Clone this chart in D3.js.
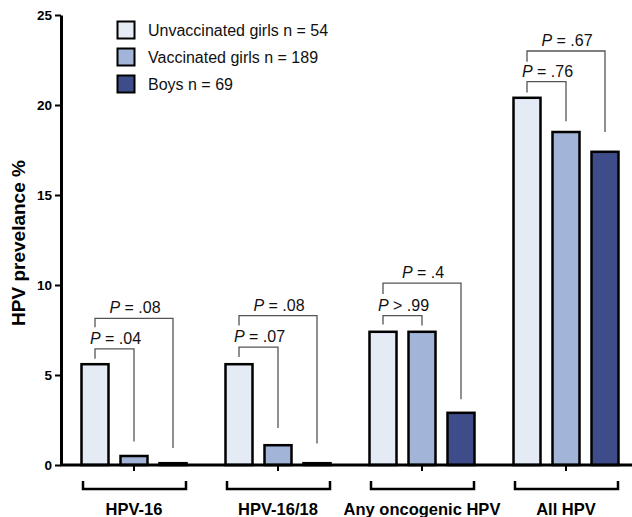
<!DOCTYPE html>
<html>
<head>
<meta charset="utf-8">
<script src="https://cdn.jsdelivr.net/npm/d3@7"></script>
<style>
  body { margin: 0; background: #fff; }
  svg { display: block; font-family: Arial, "Liberation Sans", Helvetica, sans-serif; }
</style>
</head>
<body>
<div id="chart"></div>
<script>
// data
var categories = ["HPV-16", "HPV-16/18", "Any oncogenic HPV", "All HPV"];
var seriesNames = ["Unvaccinated girls n = 54", "Vaccinated girls n = 189", "Boys n = 69"];
var unvaccinated = [5.6, 5.6, 7.4, 20.4];
var vaccinated = [0.5, 1.1, 7.4, 18.5];
var boys = [0.1, 0.1, 2.9, 17.4];
var yTicks = [0, 5, 10, 15, 20, 25];
var seriesColors = ["#e5ebf5", "#a2b4d8", "#3e4d8a"];

// p-value comparisons: group, bars compared, bracket level, leg ends (all in % units)
var comparisons = [
	{ group: 0, a: 0, b: 1, level: 6.45, endA: 5.9, endB: 1.3, op: "=", p: ".04" },
	{ group: 0, a: 0, b: 2, level: 8.15, endA: 7.65, endB: 0.95, op: "=", p: ".08" },
	{ group: 1, a: 0, b: 1, level: 6.55, endA: 6.0, endB: 2.05, op: "=", p: ".07" },
	{ group: 1, a: 0, b: 2, level: 8.3, endA: 7.75, endB: 1.2, op: "=", p: ".08" },
	{ group: 2, a: 0, b: 1, level: 8.3, endA: 7.8, endB: 7.75, op: ">", p: ".99" },
	{ group: 2, a: 0, b: 2, level: 10.1, endA: 9.5, endB: 3.65, op: "=", p: ".4" },
	{ group: 3, a: 0, b: 1, level: 21.3, endA: 20.7, endB: 19.1, op: "=", p: ".76" },
	{ group: 3, a: 0, b: 2, level: 23.0, endA: 22.4, endB: 18.5, op: "=", p: ".67" }
];

var seriesValues = [unvaccinated, vaccinated, boys];
var width = 632, height = 517;

var svg = d3.select("#chart").append("svg")
	.attr("width", width)
	.attr("height", height);

var y = d3.scaleLinear().domain([0, 25]).range([465, 15]);
var x0 = d3.scaleBand().domain(categories).range([62, 638]);
var x1 = d3.scaleBand().domain([0, 1, 2]).range([19.5, 124.5]).paddingInner(12 / 39);

function barCenter(g, s) {
	return x0(categories[g]) + x1(s) + x1.bandwidth() / 2;
}

// bars
categories.forEach(function(cat, ci) {
	var g = svg.append("g").attr("class", "group");
	seriesValues.forEach(function(vals, si) {
		g.append("rect")
			.attr("x", x0(cat) + x1(si))
			.attr("y", y(vals[ci]))
			.attr("width", x1.bandwidth())
			.attr("height", y(0) - y(vals[ci]))
			.attr("fill", seriesColors[si])
			.attr("stroke", "#000")
			.attr("stroke-width", 2.5);
	});
});

// y axis
var yAxis = svg.append("g")
	.attr("transform", "translate(61,0)")
	.call(d3.axisLeft(y).tickValues(yTicks).tickSize(6).tickSizeOuter(0).tickPadding(3));
yAxis.select(".domain").attr("stroke-width", 3);
yAxis.selectAll(".tick line").attr("stroke-width", 2);
yAxis.selectAll(".tick text")
	.attr("font-size", 13.5)
	.attr("font-weight", "bold")
	.attr("fill", "#000")
	.style("font-family", "Arial, 'Liberation Sans', sans-serif");

// x axis
var xAxis = svg.append("g")
	.attr("transform", "translate(0," + y(0) + ")")
	.call(d3.axisBottom(x0).tickSize(6).tickSizeOuter(0));
xAxis.select(".domain").attr("stroke-width", 3).attr("d", "M60,0H" + width);
xAxis.selectAll(".tick line").attr("stroke-width", 2);
xAxis.selectAll(".tick text").remove();

// group brackets and labels under the axis
categories.forEach(function(cat) {
	var cx = x0(cat) + x0.bandwidth() / 2;
	svg.append("path")
		.attr("d", "M" + (cx - 51) + ",481V489H" + (cx + 52) + "V481")
		.attr("fill", "none")
		.attr("stroke", "#000")
		.attr("stroke-width", 2.5);
	svg.append("text")
		.attr("x", cx)
		.attr("y", 515)
		.attr("text-anchor", "middle")
		.attr("font-size", 16.5)
		.attr("font-weight", "bold")
		.text(cat);
});

// y axis title
svg.append("text")
	.attr("transform", "translate(25," + (y(12.5) + 3) + ") rotate(-90)")
	.attr("text-anchor", "middle")
	.attr("font-size", 19)
	.attr("font-weight", "bold")
	.text("HPV prevelance %");

// comparison brackets
comparisons.forEach(function(c) {
	var xa = barCenter(c.group, c.a), xb = barCenter(c.group, c.b);
	svg.append("path")
		.attr("d", "M" + xa + "," + y(c.endA) + "V" + y(c.level) + "H" + xb + "V" + y(c.endB))
		.attr("fill", "none")
		.attr("stroke", "#555")
		.attr("stroke-width", 1.3);
	var t = svg.append("text")
		.attr("x", (xa + xb) / 2 + 1)
		.attr("y", y(c.level) - 5)
		.attr("text-anchor", "middle")
		.attr("font-size", 16)
		.attr("fill", "#111");
	t.append("tspan").attr("font-style", "italic").text("P");
	t.append("tspan").text(" " + c.op + " " + c.p);
});

// legend
var legend = svg.append("g").attr("transform", "translate(117,21)");
seriesNames.forEach(function(name, i) {
	var row = legend.append("g").attr("transform", "translate(0," + (i * 27) + ")");
	row.append("rect")
		.attr("x", 0.5).attr("y", 0.5)
		.attr("width", 17).attr("height", 17)
		.attr("fill", seriesColors[i])
		.attr("stroke", "#000")
		.attr("stroke-width", 2);
	row.append("text")
		.attr("x", 31)
		.attr("y", 15)
		.attr("font-size", 16)
		.attr("fill", "#111")
		.text(name);
});
</script>
</body>
</html>
